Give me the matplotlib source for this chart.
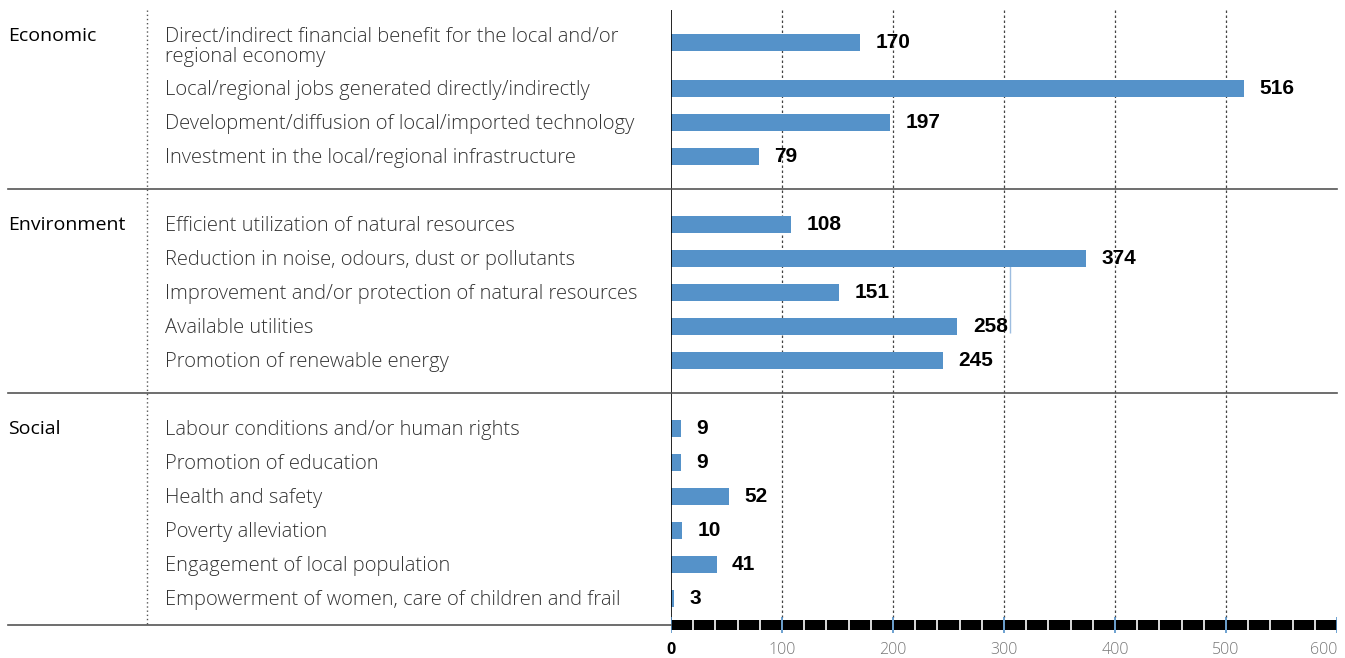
import matplotlib
matplotlib.use('Agg')
import matplotlib.pyplot as plt
import matplotlib.transforms as mtransforms

groups = ['Economic', 'Environment', 'Social']
economic_labels = ['Direct/indirect financial benefit for the local and/or\nregional economy',
                   'Local/regional jobs generated directly/indirectly',
                   'Development/diffusion of local/imported technology',
                   'Investment in the local/regional infrastructure']
economic_values = [170, 516, 197, 79]
environment_labels = ['Efficient utilization of natural resources',
                      'Reduction in noise, odours, dust or pollutants',
                      'Improvement and/or protection of natural resources',
                      'Available utilities',
                      'Promotion of renewable energy']
environment_values = [108, 374, 151, 258, 245]
social_labels = ['Labour conditions and/or human rights',
                 'Promotion of education',
                 'Health and safety',
                 'Poverty alleviation',
                 'Engagement of local population',
                 'Empowerment of women, care of children and frail']
social_values = [9, 9, 52, 10, 41, 3]
x_ticks = [0, 100, 200, 300, 400, 500, 600]

W, H = 1345, 658
BAR = '#5592c9'
LABEL_FONT = 'Open Sans'
NUM_FONT = ['Liberation Sans', 'DejaVu Sans']

fig = plt.figure(figsize=(W / 100, H / 100), dpi=100)
ax = fig.add_axes([671 / W, 0, (1337 - 671) / W, 1])
ax.set_xlim(0, 600)
ax.set_ylim(H, 0)
ax.axis('off')
# figure-x in pixels, data-y, for the text columns on the left
tr = mtransforms.blended_transform_factory(
    mtransforms.Affine2D().scale(1 / W, 1) + fig.transFigure, ax.transData)

# row layout (pixel rows), one empty row between groups
starts = [42, 224, 428]
group_rows = [(economic_labels, economic_values),
              (environment_labels, environment_values),
              (social_labels, social_values)]

for g, (labels, values), y0 in zip(groups, group_rows, starts):
    ys = []
    y = y0
    for lab in labels:
        ys.append(y)
        y += 46 if '\n' in lab else 34
    ax.barh(ys, values, height=17, color=BAR, zorder=3)
    for yy, v, lab in zip(ys, values, labels):
        ax.text(v + 14, yy + 1, str(v), fontsize=15, fontweight='bold',
                family=NUM_FONT, va='center', ha='left', color='black', zorder=4)
        ty = yy + 5 if '\n' in lab else yy + 2
        ax.text(165, ty, lab, transform=tr, fontsize=14.5, fontweight='light',
                family=LABEL_FONT, color='#333333', va='center', ha='left',
                linespacing=1.0)
    hy = y0 - 6 if '\n' in labels[0] else y0 + 1
    ax.text(8, hy, g, transform=tr, fontsize=14, color='black',
            va='center', ha='left', family=LABEL_FONT)

# separators and frame lines
for s, x_end in [(189, 1337), (393, 1337), (625, 671)]:
    fig.add_artist(plt.Line2D([8 / W, x_end / W], [1 - s / H, 1 - s / H],
                              color='#555555', lw=1.2))
fig.add_artist(plt.Line2D([147 / W, 147 / W], [1 - 10 / H, 1 - 625 / H],
                          color='#555555', lw=1, ls=(0, (1, 2))))
ax.vlines(0, 10, 625, color='black', lw=1.2, zorder=5)
ax.vlines(x_ticks[1:-1], 10, 620, color='#444444', lw=0.9, ls=(0, (2, 2)), zorder=1)
ax.vlines(305, 266, 333, color='#9dbde0', lw=1, zorder=2)

# ruler-like bottom axis
ax.fill_between([0, 600], 620, 630, color='black', zorder=5, lw=0)
ax.vlines(range(20, 600, 20), 620, 630, color='white', lw=1.2, zorder=6)
ax.vlines(x_ticks, 617, 633, color='#5592c9', lw=1.2, zorder=7)
for t in x_ticks:
    ax.text(t, 650, str(t), ha='right' if t == 600 else 'center', va='center',
            fontsize=11.5, fontweight='bold' if t == 0 else 'light',
            family=LABEL_FONT, color='black' if t == 0 else '#777777')

fig.savefig('out.png', dpi=100)
